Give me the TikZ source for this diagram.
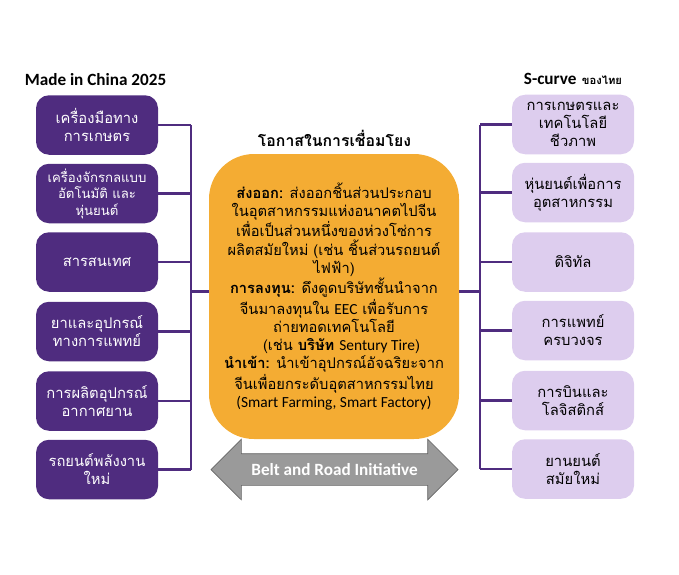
\documentclass[tikz,border=0pt]{standalone}
\usepackage{fontspec}
\setmainfont[Script=Thai]{Loma}
\newfontfamily\latfont[Scale=1.05]{Carlito}
\usetikzlibrary{shapes.arrows}
\definecolor{darkpurple}{HTML}{4F2C7F}
\definecolor{lightpurple}{HTML}{DDCDEE}
\definecolor{opporange}{HTML}{F4AC33}
\definecolor{arrowgray}{HTML}{9A9A9A}
\tikzset{
    sector/.style={rounded corners=.26cm,minimum width=2.44cm,minimum height=1.19cm,inner sep=0pt,align=center,font=\fontsize{8.4}{10.2}\selectfont},
    madebox/.style={sector,fill=darkpurple,text=white},
    curvebox/.style={sector,fill=lightpurple,text=black},
    link/.style={draw=darkpurple,line width=1.2pt},
    heading/.style={inner sep=0pt,font=\fontsize{9}{11}\selectfont\bfseries}
}
\begin{document}
\begin{tikzpicture}
    \useasboundingbox (0,0) rectangle (13.58,11.48);
    % left column
    \node[madebox] (m1) at (1.94,8.98) {เครื่องมือทาง\\การเกษตร};
    \node[madebox,font=\fontsize{7.5}{9.4}\selectfont] (m2) at (1.94,7.61) {เครื่องจักรกลแบบ\\อัตโนมัติ และ\\หุ่นยนต์};
    \node[madebox] (m3) at (1.94,6.24) {สารสนเทศ};
    \node[madebox] (m4) at (1.94,4.85) {ยาและอุปกรณ์\\ทางการแพทย์};
    \node[madebox] (m5) at (1.94,3.46) {การผลิตอุปกรณ์\\อากาศยาน};
    \node[madebox] (m6) at (1.94,2.09) {รถยนต์พลังงาน\\ใหม่};
    % right column
    \node[curvebox] (s1) at (11.46,8.99) {การเกษตรและ\\เทคโนโลยี\\ชีวภาพ};
    \node[curvebox] (s2) at (11.46,7.63) {หุ่นยนต์เพื่อการ\\อุตสาหกรรม};
    \node[curvebox] (s3) at (11.46,6.24) {ดิจิทัล};
    \node[curvebox] (s4) at (11.46,4.87) {การแพทย์\\ครบวงจร};
    \node[curvebox] (s5) at (11.46,3.47) {การบินและ\\โลจิสติกส์};
    \node[curvebox] (s6) at (11.46,2.10) {ยานยนต์\\สมัยใหม่};
    % headings
    \node[heading,font=\fontsize{9.3}{11}\selectfont\bfseries\latfont] (mt) at (1.91,9.88) {Made in China 2025};
    \node[heading] (st) at (11.46,9.9) {{\fontsize{9.3}{11}\selectfont\latfont S-curve} {\fontsize{6.4}{8}\selectfont ของไทย}};
    \node[heading] (ot) at (6.69,8.72) {โอกาสในการเชื่อมโยง};
    % arrow goes under the centre box
    \node[double arrow,fill=arrowgray,draw=gray!80!black,line width=.4pt,minimum height=4.94cm,minimum width=1.2cm,
        double arrow head extend=.29cm,inner xsep=0pt,inner ysep=0pt,text height=.62cm,text width=3.2cm,text=white,align=center] (br) at (6.69,2.09) {};
    \node[inner sep=0pt,text=white,font=\fontsize{9.3}{11}\selectfont\bfseries\latfont] (brt) at (br) {Belt and Road Initiative};
    % centre box
    \node[fill=opporange,rounded corners=.9cm,minimum width=5cm,minimum height=5.7cm,inner sep=0pt,align=center,
        font=\fontsize{8.35}{10.35}\selectfont] (op) at (6.68,5.55) {%
        \textbf{ส่งออก:} ส่งออกชิ้นส่วนประกอบ\\
        ในอุตสาหกรรมแห่งอนาคตไปจีน\\
        เพื่อเป็นส่วนหนึ่งของห่วงโซ่การ\\
        ผลิตสมัยใหม่ (เช่น ชิ้นส่วนรถยนต์\\
        ไฟฟ้า)\\
        \textbf{การลงทุน:} ดึงดูดบริษัทชั้นนำจาก\\
        จีนมาลงทุนใน {\latfont EEC} เพื่อรับการ\\
        ถ่ายทอดเทคโนโลยี\\
        \hspace*{.3cm}(เช่น \textbf{บริษัท} {\latfont Sentury Tire})\\
        \textbf{นำเข้า:} นำเข้าอุปกรณ์อัจฉริยะจาก\\
        จีนเพื่อยกระดับอุตสาหกรรมไทย\\
        {\latfont (Smart Farming, Smart Factory)}};
    % connectors
    \coordinate (lb) at (3.82,5.65);
    \coordinate (rb) at (9.6,5.65);
    \draw[link] (m1.east -| lb) -- (m6.east -| lb);
    \draw[link] (s1.west -| rb) -- (s6.west -| rb);
    \foreach \i in {1,...,6} {
        \draw[link] (m\i.east) -- (m\i.east -| lb);
        \draw[link] (s\i.west) -- (s\i.west -| rb);
    }
    \draw[link] (lb) -- (lb -| op.west);
    \draw[link] (rb) -- (rb -| op.east);
\end{tikzpicture}
\end{document}
